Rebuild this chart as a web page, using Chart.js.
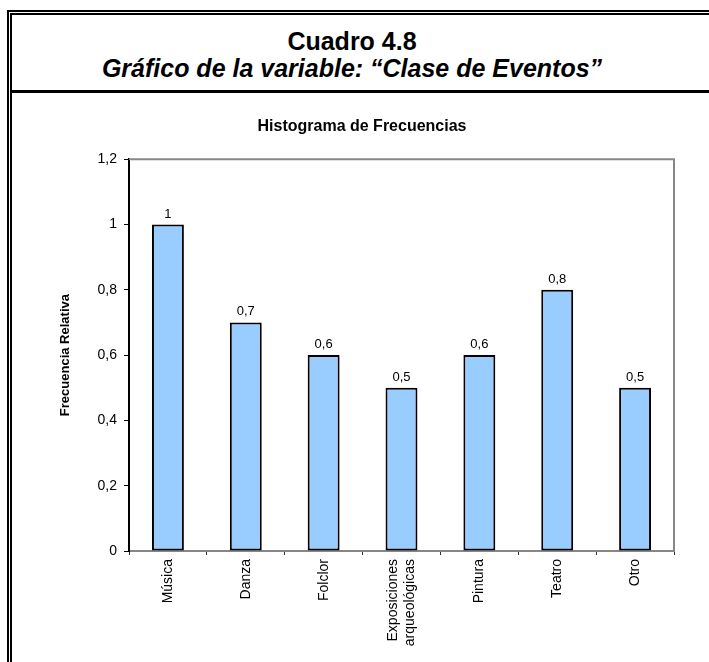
<!DOCTYPE html>
<html>
<head>
<meta charset="utf-8">
<script src="https://cdn.jsdelivr.net/npm/chart.js@4.4.1/dist/chart.umd.min.js"></script>
<style>
  html, body { margin: 0; padding: 0; background: #fff; }
  body { width: 709px; height: 662px; position: relative; overflow: hidden; font-family: "Liberation Sans", Arial, sans-serif; }
  .ln { position: absolute; background: #000; }
  .ttl { position: absolute; left: 0; width: 704px; text-align: center; font-weight: bold; font-size: 25px; line-height: 28px; color: #000; white-space: nowrap; }
  #chart { position: absolute; left: 0; top: 0; }
</style>
</head>
<body>
<!-- double frame + separator -->
<div class="ln" style="left:7px;top:10px;width:702px;height:2px"></div>
<div class="ln" style="left:7px;top:10px;width:2px;height:652px"></div>
<div class="ln" style="left:10px;top:13px;width:699px;height:2px"></div>
<div class="ln" style="left:10px;top:13px;width:2px;height:649px"></div>
<div class="ln" style="left:10px;top:90px;width:699px;height:3px"></div>

<div class="ttl" style="top:27px">Cuadro 4.8</div>
<div class="ttl" style="top:54px;font-style:italic">Gráfico de la variable: “Clase de Eventos”</div>

<canvas id="chart" width="709" height="662"></canvas>

<script>
// data
const categories = ['Música', 'Danza', 'Folclor', ['Exposiciones', 'arqueológicas'], 'Pintura', 'Teatro', 'Otro'];
const frecuencias = [1, 0.7, 0.6, 0.5, 0.6, 0.8, 0.5];
const yTicks = [0, 0.2, 0.4, 0.6, 0.8, 1, 1.2];

const FONT = '"Liberation Sans", Arial, sans-serif';

// Helper: 0.7 -> "0,7"
function fmt(v) {
    return String(Number(v.toFixed(1))).replace('.', ',');
}

// gray border on top/right of plot area
const plotBorder = {
    id: 'plotBorder',
    beforeDatasetsDraw(chart) {
        const { ctx, chartArea: a } = chart;
        ctx.save();
        ctx.strokeStyle = '#878787';
        ctx.lineWidth = 2;
        ctx.beginPath();
        ctx.moveTo(a.left, a.top);
        ctx.lineTo(a.right, a.top);
        ctx.lineTo(a.right, a.bottom);
        ctx.stroke();
        ctx.restore();
    }
};

// value labels + rotated category labels
const labelsPlugin = {
    id: 'labelsPlugin',
    afterDraw(chart) {
        const ctx = chart.ctx;
        const xs = chart.scales.x;
        const bars = chart.getDatasetMeta(0).data;
        ctx.save();
        ctx.fillStyle = '#000';

        ctx.font = '13px ' + FONT;
        ctx.textAlign = 'center';
        ctx.textBaseline = 'alphabetic';
        bars.forEach((b, i) => {
            ctx.fillText(fmt(frecuencias[i]), b.x, b.y - 7);
        });

        ctx.font = '14px ' + FONT;
        ctx.textAlign = 'right';
        ctx.textBaseline = 'middle';
        const lh = 17;
        categories.forEach((lab, i) => {
            const lines = Array.isArray(lab) ? lab : [lab];
            ctx.save();
            ctx.translate(xs.getPixelForValue(i), xs.top + 8);
            ctx.rotate(-Math.PI / 2);
            lines.forEach((t, j) => {
                ctx.fillText(t, 0, (j - (lines.length - 1) / 2) * lh);
            });
            ctx.restore();
        });
        ctx.restore();
    }
};

new Chart(document.getElementById('chart'), {
    type: 'bar',
    data: {
        labels: categories,
        datasets: [{
            data: frecuencias,
            backgroundColor: '#99CCFF',
            borderColor: '#000',
            borderWidth: 2,
            borderSkipped: false,
            barPercentage: 0.41,
            categoryPercentage: 1
        }]
    },
    options: {
        responsive: false,
        devicePixelRatio: 1,
        animation: false,
        layout: { padding: { top: 93, left: 50, right: 35, bottom: 0 } },
        plugins: {
            legend: { display: false },
            tooltip: { enabled: false },
            title: {
                display: true,
                text: 'Histograma de Frecuencias',
                color: '#000',
                font: { family: FONT, size: 16, weight: 'bold', lineHeight: 1.2 },
                padding: { top: 24, bottom: 23 }
            }
        },
        scales: {
            x: {
                offset: true,
                grid: { offset: true, drawOnChartArea: false, drawTicks: true, tickLength: 4, tickColor: '#333' },
                border: { color: '#878787', width: 2 },
                ticks: { display: false },
                afterFit: s => { s.height = 111; }
            },
            y: {
                min: 0,
                max: 1.2,
                afterBuildTicks: s => { s.ticks = yTicks.map(v => ({ value: v })); },
                grid: { drawOnChartArea: false, drawTicks: true, tickLength: 5, tickColor: '#000' },
                border: { color: '#000', width: 2 },
                ticks: {
                    color: '#000',
                    padding: 7,
                    font: { family: FONT, size: 14 },
                    callback: v => fmt(v)
                },
                title: {
                    display: true,
                    text: 'Frecuencia Relativa',
                    color: '#000',
                    font: { family: FONT, size: 13, weight: 'bold', lineHeight: 1.2 },
                    padding: { top: 8, bottom: 0 }
                },
                afterFit: s => { s.width = 79; }
            }
        }
    },
    plugins: [plotBorder, labelsPlugin]
});
</script>
</body>
</html>
